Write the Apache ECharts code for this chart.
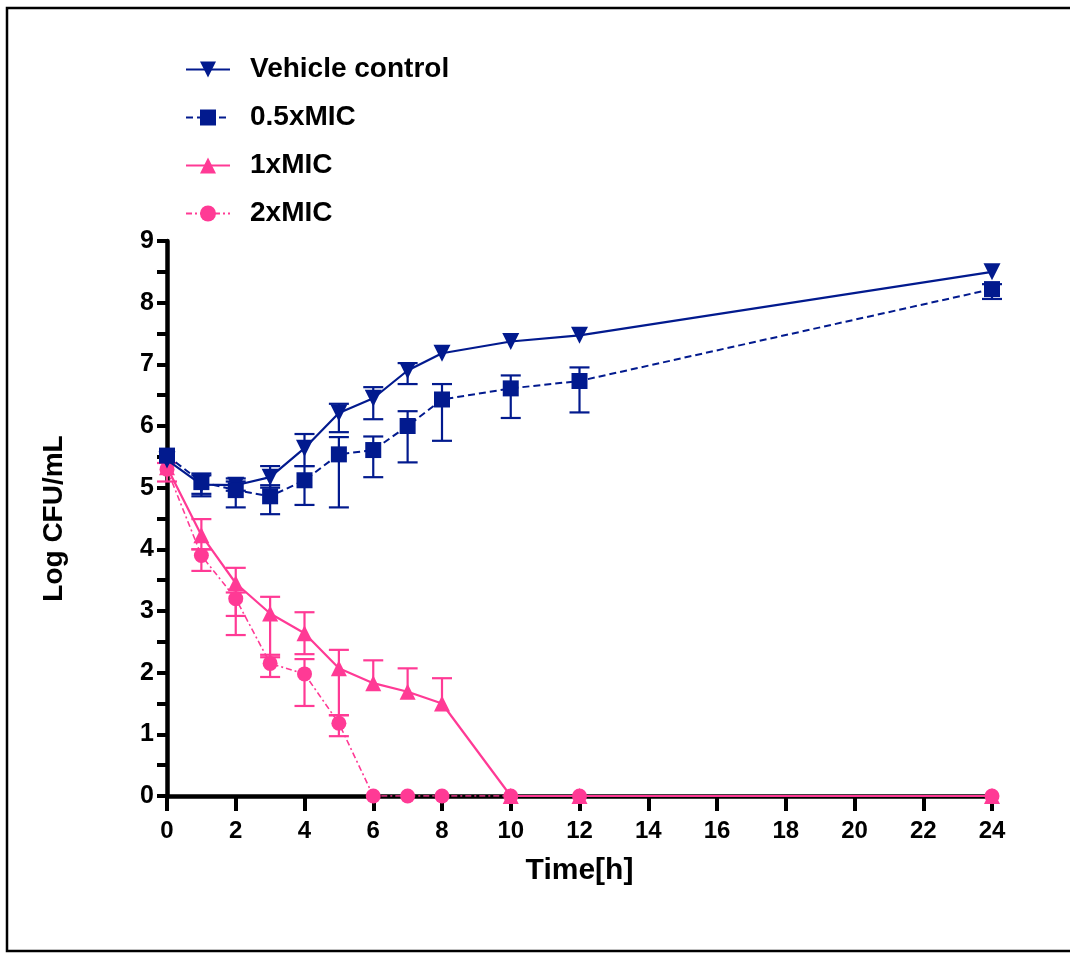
<!DOCTYPE html>
<html>
<head>
<meta charset="utf-8">
<script src="https://cdn.jsdelivr.net/npm/echarts@6/dist/echarts.min.js"></script>
<style>
html,body{margin:0;padding:0;background:#fff;}
#chart{width:1070px;height:953px;}
</style>
</head>
<body>
<div id="chart"></div>
<script>
const times = [0, 1, 2, 3, 4, 5, 6, 7, 8, 10, 12, 24];
const xTicks = [0, 2, 4, 6, 8, 10, 12, 14, 16, 18, 20, 22, 24];
const seriesNames = ['Vehicle control', '0.5xMIC', '1xMIC', '2xMIC'];

const vehicle     = [5.45, 5.05, 5.04, 5.17, 5.64, 6.21, 6.45, 6.90, 7.18, 7.37, 7.47, 8.50];
const vehicleLow  = [null, 4.90, 4.95, 5.00, 5.35, 5.90, 6.11, 6.68, null, null, null, null];
const vehicleHigh = [null, 5.20, 5.10, 5.35, 5.87, 6.36, 6.63, 7.02, null, null, null, null];

const half     = [5.52, 5.09, 4.96, 4.86, 5.12, 5.54, 5.61, 6.00, 6.43, 6.61, 6.73, 8.22];
const halfLow  = [null, 4.86, 4.68, 4.57, 4.72, 4.68, 5.17, 5.41, 5.76, 6.13, 6.22, 8.06];
const halfHigh = [null, 5.23, 5.15, 5.04, 5.35, 5.82, 5.83, 6.24, 6.68, 6.82, 6.95, 8.30];

const one     = [5.33, 4.23, 3.45, 2.96, 2.64, 2.07, 1.83, 1.69, 1.50, 0, 0, 0];
const oneLow  = [5.10, 4.00, 2.92, 2.25, 2.30, 1.31, 1.83, 1.69, 1.50, null, null, null];
const oneHigh = [5.40, 4.49, 3.70, 3.23, 2.98, 2.37, 2.20, 2.07, 1.91, null, null, null];

const two     = [5.30, 3.90, 3.20, 2.15, 1.98, 1.18, 0, 0, 0, 0, 0, 0];
const twoLow  = [null, 3.65, 2.61, 1.93, 1.46, 0.97, null, null, null, null, null, null];
const twoHigh = [null, 4.00, 3.30, 2.29, 2.22, 1.31, null, null, null, null, null, null];

const NAVY = '#021a8e';
const PINK = '#ff3a95';
const FONT = '"Liberation Sans", Arial, Helvetica, sans-serif';

function pts(vals) { return times.map((t, i) => [t, vals[i]]); }
function errPts(vals, lo, hi) {
  const out = [];
  times.forEach((t, i) => {
    if (lo[i] !== null && hi[i] !== null) out.push([t, lo[i], hi[i], vals[i]]);
  });
  return out;
}
function errSeries(name, vals, lo, hi, color) {
  return {
    type: 'custom',
    name: name + ' err',
    z: 1,
    silent: true,
    data: errPts(vals, lo, hi),
    encode: { x: 0, y: [1, 2] },
    renderItem: function (params, api) {
      const x = api.value(0);
      const pLo = api.coord([x, api.value(1)]);
      const pHi = api.coord([x, api.value(2)]);
      const v = api.value(3);
      const cw = 10;
      const st = { stroke: color, lineWidth: 2.2 };
      const children = [
        { type: 'line', shape: { x1: pLo[0], y1: pLo[1], x2: pHi[0], y2: pHi[1] }, style: st }
      ];
      if (api.value(1) !== v) children.push({ type: 'line', shape: { x1: pLo[0] - cw, y1: pLo[1], x2: pLo[0] + cw, y2: pLo[1] }, style: st });
      if (api.value(2) !== v) children.push({ type: 'line', shape: { x1: pHi[0] - cw, y1: pHi[1], x2: pHi[0] + cw, y2: pHi[1] }, style: st });
      return { type: 'group', children: children };
    }
  };
}

const chart = echarts.init(document.getElementById('chart'), null, { renderer: 'canvas' });
const option = {
  backgroundColor: '#ffffff',
  animation: false,
  graphic: [{
    type: 'rect',
    shape: { x: 7, y: 8, width: 1090, height: 943 },
    style: { fill: 'none', stroke: '#000', lineWidth: 2.5 },
    z: 0
  }],
  legend: {
    orient: 'vertical',
    left: 185,
    top: 54,
    padding: 0,
    itemWidth: 44,
    itemHeight: 20,
    itemGap: 17,
    data: seriesNames,
    textStyle: { fontFamily: FONT, fontWeight: 'bold', fontSize: 28, color: '#000', lineHeight: 31, padding: [0, 0, 0, 15] }
  },
  grid: { left: 167, top: 241, width: 825, height: 555, containLabel: false },
  xAxis: {
    type: 'value',
    min: 0, max: 24, interval: 2,
    name: 'Time[h]',
    nameLocation: 'middle',
    nameGap: 60,
    nameTextStyle: { fontFamily: FONT, fontWeight: 'bold', fontSize: 30, color: '#000' },
    axisLine: { show: true, onZero: false, lineStyle: { color: '#000', width: 4.5 } },
    axisTick: { show: true, inside: false, length: 15, lineStyle: { color: '#000', width: 4 } },
    axisLabel: { margin: 23, fontFamily: FONT, fontWeight: 'bold', fontSize: 24, color: '#000',
      formatter: function (v) { return xTicks.indexOf(v) >= 0 ? String(v) : ''; } },
    splitLine: { show: false }
  },
  yAxis: {
    type: 'value',
    min: 0, max: 9, interval: 1,
    name: 'Log CFU/mL',
    nameLocation: 'middle',
    nameRotate: 90,
    nameGap: 99,
    nameTextStyle: { fontFamily: FONT, fontWeight: 'bold', fontSize: 28, color: '#000' },
    axisLine: { show: true, onZero: false, lineStyle: { color: '#000', width: 4.5 } },
    axisTick: { show: true, inside: false, length: 10, lineStyle: { color: '#000', width: 4 } },
    minorTick: { show: true, splitNumber: 2, length: 10, lineStyle: { color: '#000', width: 4 } },
    axisLabel: { margin: 13, fontFamily: FONT, fontWeight: 'bold', fontSize: 25, color: '#000' },
    splitLine: { show: false }
  },
  series: [
    errSeries(seriesNames[0], vehicle, vehicleLow, vehicleHigh, NAVY),
    errSeries(seriesNames[1], half, halfLow, halfHigh, NAVY),
    errSeries(seriesNames[2], one, oneLow, oneHigh, PINK),
    errSeries(seriesNames[3], two, twoLow, twoHigh, PINK),
    {
      name: seriesNames[0], type: 'line', z: 5, data: pts(vehicle),
      symbol: 'triangle', symbolRotate: 180, symbolSize: 17,
      itemStyle: { color: NAVY }, lineStyle: { color: NAVY, width: 2.2, type: 'solid' }
    },
    {
      name: seriesNames[1], type: 'line', z: 5, data: pts(half),
      symbol: 'rect', symbolSize: 16,
      itemStyle: { color: NAVY }, lineStyle: { color: NAVY, width: 2, type: [7, 4] }
    },
    {
      name: seriesNames[2], type: 'line', z: 4, data: pts(one),
      symbol: 'triangle', symbolSize: 16,
      itemStyle: { color: PINK }, lineStyle: { color: PINK, width: 2.2, type: 'solid' }
    },
    {
      name: seriesNames[3], type: 'line', z: 4, data: pts(two),
      symbol: 'circle', symbolSize: 15,
      itemStyle: { color: PINK }, lineStyle: { color: PINK, width: 1.6, type: [6, 3, 2, 3] }
    }
  ]
};
chart.setOption(option);
</script>
</body>
</html>
